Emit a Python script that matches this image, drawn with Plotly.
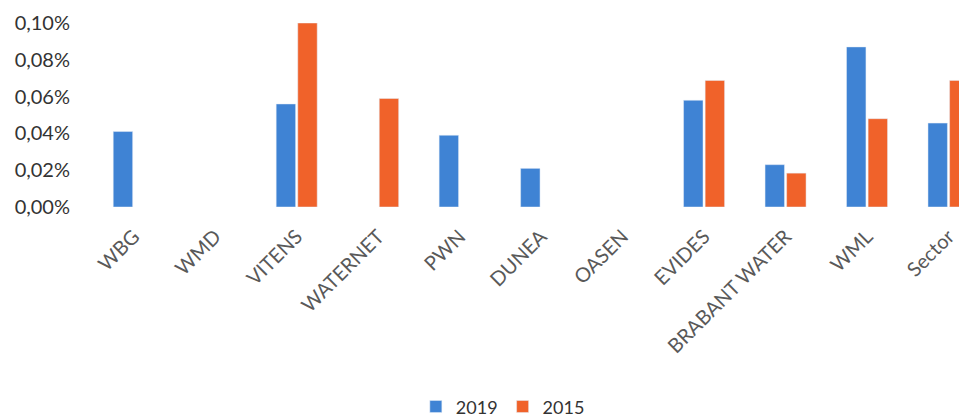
import plotly.graph_objects as go

categories = ["WBG", "WMD", "VITENS", "WATERNET", "PWN", "DUNEA", "OASEN",
              "EVIDES", "BRABANT WATER", "WML", "Sector"]
values_2019 = [0.00041, None, 0.00056, None, 0.00039, 0.00021, None,
               0.00058, 0.00023, 0.00087, 0.000456]
values_2015 = [None, None, 0.00100, 0.00059, None, None, None,
               0.000688, 0.000184, 0.00048, 0.000688]
tick_vals = [0, 0.0002, 0.0004, 0.0006, 0.0008, 0.0010]
tick_text = ["0,00%", "0,02%", "0,04%", "0,06%", "0,08%", "0,10%"]

BLUE = "#3f83d4"
ORANGE = "#f0622a"
FONT = "Lato"
TXT = "#595959"

fig = go.Figure()
fig.add_trace(go.Bar(x=categories, y=values_2019, name="2019", marker_color=BLUE))
fig.add_trace(go.Bar(x=categories, y=values_2015, name="2015", marker_color=ORANGE))

fig.update_layout(
    width=959, height=409,
    margin=dict(l=85, r=0, t=15, b=210, autoexpand=False),
    plot_bgcolor="white", paper_bgcolor="white",
    barmode="group", bargap=0.47, bargroupgap=0.1,
    font=dict(family=FONT, size=18, color=TXT),
    showlegend=True,
    legend=dict(orientation="h", xref="container", x=0.516, xanchor="center",
                yref="container", y=0.025, yanchor="middle",
                font=dict(family=FONT, size=18, color="#333333"),
                itemwidth=30, traceorder="normal"),
)
fig.update_xaxes(range=[-0.5, 10.227], tickangle=-45, showgrid=False,
                 showline=False, ticks="", ticklabelstandoff=13,
                 automargin=False,
                 tickfont=dict(family=FONT, size=20, color=TXT))
fig.update_yaxes(range=[0, 0.001], tickvals=tick_vals, ticktext=tick_text,
                 showgrid=False, zeroline=False, showline=False, ticks="",
                 ticklabelstandoff=22, automargin=False,
                 tickfont=dict(family=FONT, size=20, color="#333333"))

fig.write_html("out.html")
